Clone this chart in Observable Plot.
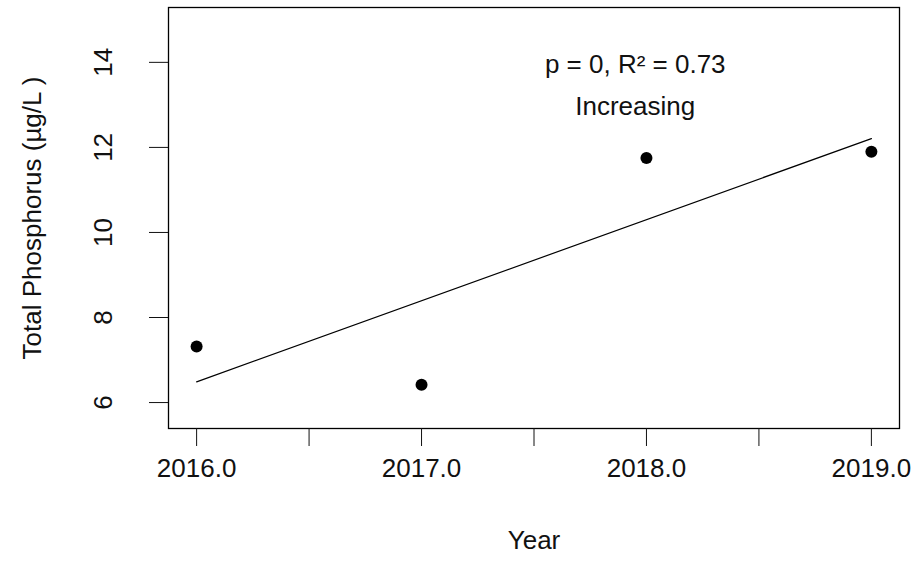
<!DOCTYPE html>
<html><head><meta charset="utf-8">
<script src="https://cdn.jsdelivr.net/npm/d3@7"></script>
<script src="https://cdn.jsdelivr.net/npm/@observablehq/plot@0.6"></script>
<style>body{margin:0;background:#fff} svg text{font-size:26px}</style>
</head><body><div id="chart"></div>
<script>
const years = [2016, 2017, 2018, 2019]
const phosphorus = [7.32, 6.42, 11.75, 11.9]
const xTicks = [2016, 2016.5, 2017, 2017.5, 2018, 2018.5, 2019]
const yTicks = [6, 8, 10, 12, 14]
const notes = [
  {x: 2017.95, y: 13.95, text: "p = 0, R² = 0.73"},
  {x: 2017.95, y: 12.95, text: "Increasing"}
]

const data = years.map((d, i) => ({year: d, tp: phosphorus[i]}))

let chart = Plot.plot({
  width: 924,
  height: 584,
  marginLeft: 168,
  marginRight: 25,
  marginTop: 7,
  marginBottom: 156,
  style: {fontFamily: "Liberation Sans, Arial, sans-serif", fontSize: "26px", color: "#111"},
  x: {domain: [2015.875, 2019.125]},
  y: {domain: [5.39, 15.29]},
  marks: [
    Plot.frame({stroke: "#000", strokeWidth: 1.3}),
    Plot.axisX({ticks: xTicks, tickSize: 18, tickPadding: 12, tickFormat: d => d % 1 === 0 ? d.toFixed(1) : "",
      label: "Year", labelAnchor: "center", labelArrow: "none", labelOffset: 120}),
    Plot.axisY({ticks: yTicks, tickSize: 19, tickRotate: -90, tickPadding: 38,
      label: "Total Phosphorus (µg/L )", labelAnchor: "center", labelArrow: "none", labelOffset: 146}),
    Plot.linearRegressionY(data, {x: "year", y: "tp", ci: 0, stroke: "#000", strokeWidth: 1.2}),
    Plot.dot(data, {x: "year", y: "tp", r: 6, fill: "#000"}),
    Plot.text(notes, {x: "x", y: "y", text: "text"})
  ]
})
d3.select('#chart').append(() => chart)
</script></body></html>
